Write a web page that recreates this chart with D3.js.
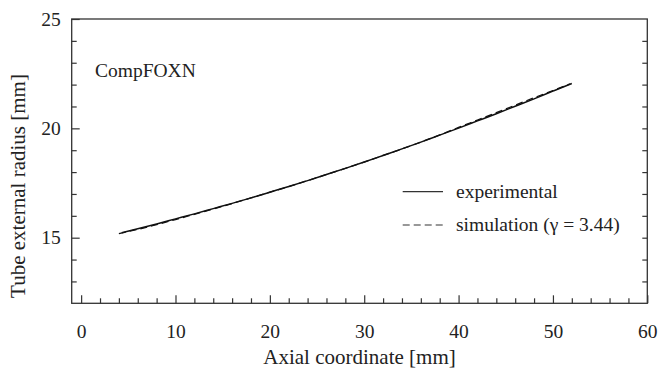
<!DOCTYPE html>
<html>
<head>
<meta charset="utf-8">
<script src="https://cdn.jsdelivr.net/npm/d3@7/dist/d3.min.js"></script>
<style>
  html, body { margin: 0; padding: 0; background: #fff; }
  svg { display: block; }
</style>
</head>
<body>
<svg id="chart" width="659" height="369"></svg>
<script>
// Measured tube profile (axial coordinate in mm, external radius in mm)
const expX = [4.3, 6, 8, 10, 12, 14, 16, 18, 20, 22, 24, 26, 28, 30, 32, 34, 36, 38, 40, 42, 44, 46, 48, 50, 52];
const expR = [15.23, 15.41, 15.63, 15.86, 16.09, 16.33, 16.57, 16.82, 17.08, 17.34, 17.61, 17.89, 18.17, 18.46, 18.76, 19.06, 19.37, 19.69, 20.01, 20.34, 20.67, 21.01, 21.35, 21.70, 22.05];

// Simulated profile
const simX = [4.0, 6, 8, 10, 12, 14, 16, 18, 20, 22, 24, 26, 28, 30, 32, 34, 36, 38, 40, 42, 44, 46, 48, 50, 51.8];
const simR = [15.19, 15.38, 15.60, 15.83, 16.07, 16.31, 16.56, 16.82, 17.08, 17.34, 17.61, 17.89, 18.17, 18.46, 18.76, 19.06, 19.37, 19.70, 20.04, 20.38, 20.72, 21.06, 21.40, 21.73, 22.03];

const xMajorTicks = [0, 10, 20, 30, 40, 50, 60];
const xMinorTicks = [2, 4, 6, 8, 12, 14, 16, 18, 22, 24, 26, 28, 32, 34, 36, 38, 42, 44, 46, 48, 52, 54, 56, 58];
const yMajorTicks = [15, 20, 25];
const yMinorTicks = [13, 14, 16, 17, 18, 19, 21, 22, 23, 24];
const yRightTicks = [13, 14, 15, 16, 17, 18, 19, 20, 21, 22, 23, 24];

const legendLabels = ["experimental", "simulation (\u03b3 = 3.44)"];
const annotation = "CompFOXN";
const xTitle = "Axial coordinate [mm]";
const yTitle = "Tube external radius [mm]";

const serif = "'Liberation Serif', 'DejaVu Serif', 'Times New Roman', serif";
const textColor = "#222";

const svg = d3.select("#chart");
const plotLeft = 71.7, plotRight = 647.3, plotTop = 19, plotBottom = 303.3;

const x = d3.scaleLinear().domain([-1, 60]).range([plotLeft, plotRight]);
const y = d3.scaleLinear().domain([12, 25]).range([plotBottom, plotTop]);

const axisColor = "#333";
const tickFont = "19.5px";

// Frame
svg.append("rect")
  .attr("x", plotLeft).attr("y", plotTop)
  .attr("width", plotRight - plotLeft).attr("height", plotBottom - plotTop)
  .attr("fill", "none").attr("stroke", axisColor).attr("stroke-width", 1.3);

function styleAxis(g) {
  g.attr("font-family", serif);
  g.select(".domain").remove();
  g.selectAll(".tick line").attr("stroke", axisColor).attr("stroke-width", 1.2);
  g.selectAll(".tick text")
    .attr("font-family", serif)
    .attr("font-size", tickFont)
    .attr("fill", textColor);
}

// Bottom axis: labelled major ticks and short minor ticks, pointing inward
svg.append("g").attr("transform", `translate(0,${plotBottom})`)
  .call(d3.axisBottom(x).tickValues(xMajorTicks).tickFormat(d3.format("d"))
    .tickSizeInner(-8).tickSizeOuter(0).tickPadding(20.5))
  .call(styleAxis);
svg.append("g").attr("transform", `translate(0,${plotBottom})`)
  .call(d3.axisBottom(x).tickValues(xMinorTicks).tickFormat("")
    .tickSizeInner(-5).tickSizeOuter(0))
  .call(styleAxis);

// Left axis
svg.append("g").attr("transform", `translate(${plotLeft},0)`)
  .call(d3.axisLeft(y).tickValues(yMajorTicks).tickFormat(d3.format("d"))
    .tickSizeInner(-8).tickSizeOuter(0).tickPadding(11))
  .call(styleAxis);
svg.append("g").attr("transform", `translate(${plotLeft},0)`)
  .call(d3.axisLeft(y).tickValues(yMinorTicks).tickFormat("")
    .tickSizeInner(-5).tickSizeOuter(0))
  .call(styleAxis);

// Right axis: unlabelled ticks only
svg.append("g").attr("transform", `translate(${plotRight},0)`)
  .call(d3.axisRight(y).tickValues(yRightTicks).tickFormat("")
    .tickSizeInner(-5).tickSizeOuter(0))
  .call(styleAxis);

function addText(sel) {
  return sel.append("text")
    .attr("font-family", serif)
    .attr("fill", textColor);
}

// Axis titles
addText(svg)
  .attr("x", (plotLeft + plotRight) / 2).attr("y", 364)
  .attr("text-anchor", "middle")
  .attr("font-size", "21px")
  .text(xTitle);

addText(svg)
  .attr("transform", `translate(25,186) rotate(-90)`)
  .attr("text-anchor", "middle")
  .attr("font-size", "21px")
  .text(yTitle);

// Material label
addText(svg)
  .attr("x", 95).attr("y", 77)
  .attr("font-size", "19.5px")
  .text(annotation);

// Curves
const line = d3.line()
  .x(d => x(d[0]))
  .y(d => y(d[1]))
  .curve(d3.curveMonotoneX);

const expData = expX.map((v, i) => [v, expR[i]]);
const simData = simX.map((v, i) => [v, simR[i]]);

svg.append("path")
  .datum(expData)
  .attr("d", line)
  .attr("fill", "none")
  .attr("stroke", "#111")
  .attr("stroke-width", 1.5);

svg.append("path")
  .datum(simData)
  .attr("d", line)
  .attr("fill", "none")
  .attr("stroke", "#111")
  .attr("stroke-width", 1.3)
  .attr("stroke-dasharray", "7,4");

// Legend
const legend = svg.append("g");
const rows = [
  { label: legendLabels[0], dash: null, ly: 191.7, ty: 197.5 },
  { label: legendLabels[1], dash: "7,4", ly: 225, ty: 231 }
];
rows.forEach(r => {
  legend.append("line")
    .attr("x1", 402.7).attr("x2", 443)
    .attr("y1", r.ly).attr("y2", r.ly)
    .attr("stroke", "#333").attr("stroke-width", 1.2)
    .attr("stroke-dasharray", r.dash);
  addText(legend)
    .attr("x", 456).attr("y", r.ty)
    .attr("font-size", "19.5px")
    .text(r.label);
});
</script>
</body>
</html>
